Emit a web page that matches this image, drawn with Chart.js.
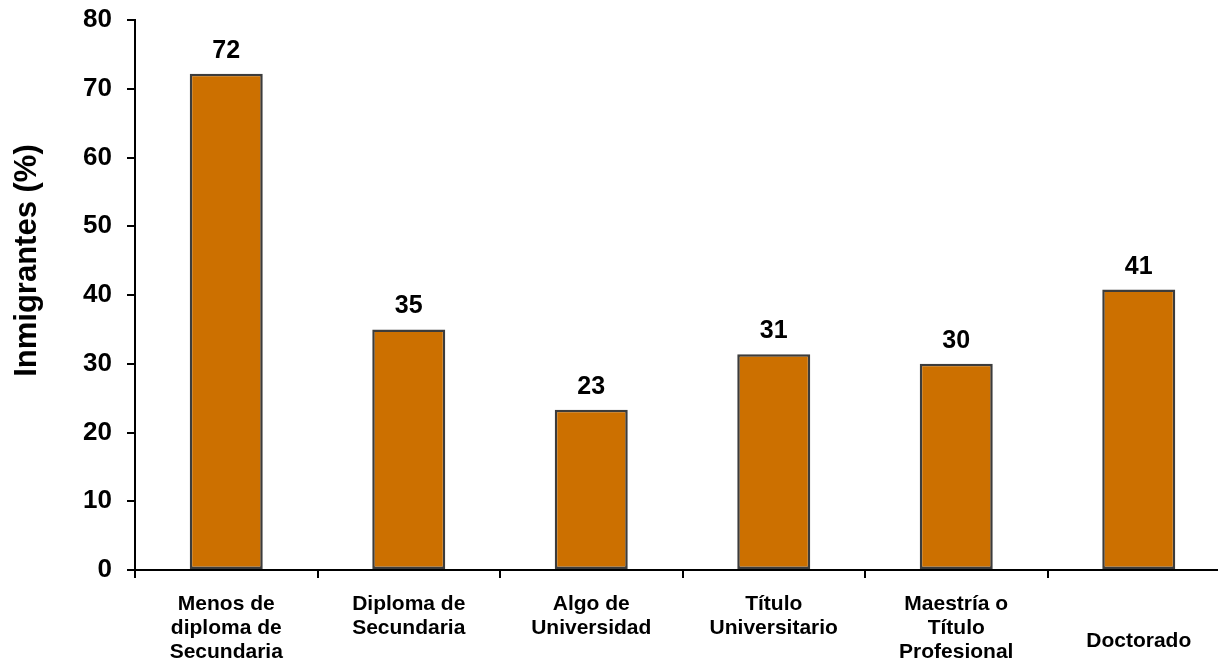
<!DOCTYPE html>
<html>
<head>
<meta charset="utf-8">
<script src="https://cdn.jsdelivr.net/npm/chart.js@4/dist/chart.umd.min.js"></script>
<style>
	html, body { margin: 0; padding: 0; background: #fff; overflow: hidden; }
	#wrap { width: 1218px; height: 661px; overflow: hidden; }
</style>
</head>
<body>
<div id="wrap"><canvas id="eduChart" width="1240" height="661"></canvas></div>
<script>
// categories (multi-line tick labels)
const categories = [
	["Menos de", "diploma de", "Secundaria"],
	["Diploma de", "Secundaria"],
	["Algo de", "Universidad"],
	["Título", "Universitario"],
	["Maestría o", "Título", "Profesional"],
	["", "Doctorado"],
];
// percent of immigrants
const immigrantPct = [72.2, 35, 23.3, 31.4, 30, 40.8];
const yTicks = [0, 10, 20, 30, 40, 50, 60, 70, 80];

const FONT = "'Liberation Sans', Arial, sans-serif";

//writes the rounded value above each bar
const valueLabels = {
	id: "valueLabels",
	afterDatasetsDraw(chart) {
		const ctx = chart.ctx;
		const meta = chart.getDatasetMeta(0);
		ctx.save();
		ctx.font = "bold 25px " + FONT;
		ctx.fillStyle = "#000";
		ctx.textAlign = "center";
		ctx.textBaseline = "alphabetic";
		meta.data.forEach((bar, i) => {
			ctx.fillText(Math.round(immigrantPct[i]), bar.x, bar.y - 16);
		});
		ctx.restore();
	}
};

const canvas = document.getElementById("eduChart");
new Chart(canvas.getContext("2d"), {
	type: "bar",
	data: {
		labels: categories,
		datasets: [
			{
				data: immigrantPct,
				backgroundColor: "#CC7000",
				borderColor: "#3C3C3C",
				borderWidth: 2.5,
				borderSkipped: false,
				categoryPercentage: 1,
				barPercentage: 0.4,
			},
		],
	},
	options: {
		responsive: false,
		animation: false,
		devicePixelRatio: 1,
		layout: {
			padding: { left: 0, top: 20, right: 10, bottom: 0 },
		},
		plugins: {
			legend: { display: false },
			tooltip: { enabled: false },
		},
		scales: {
			x: {
				grid: {
					drawOnChartArea: false,
					drawTicks: true,
					tickLength: 8,
					color: "#000",
					lineWidth: 2,
				},
				border: { color: "#000", width: 2 },
				ticks: {
					color: "#000",
					padding: 14,
					maxRotation: 0,
					autoSkip: false,
					// last label sits lower in the original
					font: (c) => ({
						family: FONT,
						size: 21,
						weight: "bold",
						lineHeight: c.index === 5 ? 1.55 : 1.15,
					}),
				},
				afterFit(scale) {
					scale.height = 91;
					scale.paddingLeft = 0;
					scale.paddingRight = 0;
				},
			},
			y: {
				min: 0,
				max: 80,
				afterBuildTicks(scale) {
					scale.ticks = yTicks.map((v) => ({ value: v }));
				},
				grid: {
					drawOnChartArea: false,
					drawTicks: true,
					tickLength: 8,
					color: "#000",
					lineWidth: 2,
				},
				border: { color: "#000", width: 2 },
				ticks: {
					color: "#000",
					padding: 15,
					font: { family: FONT, size: 26, weight: "bold" },
				},
				title: {
					display: true,
					text: "        Inmigrantes (%)",
					color: "#000",
					padding: { top: 9, bottom: 0 },
					font: { family: FONT, size: 31, weight: "bold", lineHeight: 1.2 },
				},
				afterFit(scale) {
					scale.width = 135;
					scale.paddingTop = 0;
					scale.paddingBottom = 0;
				},
			},
		},
	},
	plugins: [valueLabels],
});
</script>
</body>
</html>
